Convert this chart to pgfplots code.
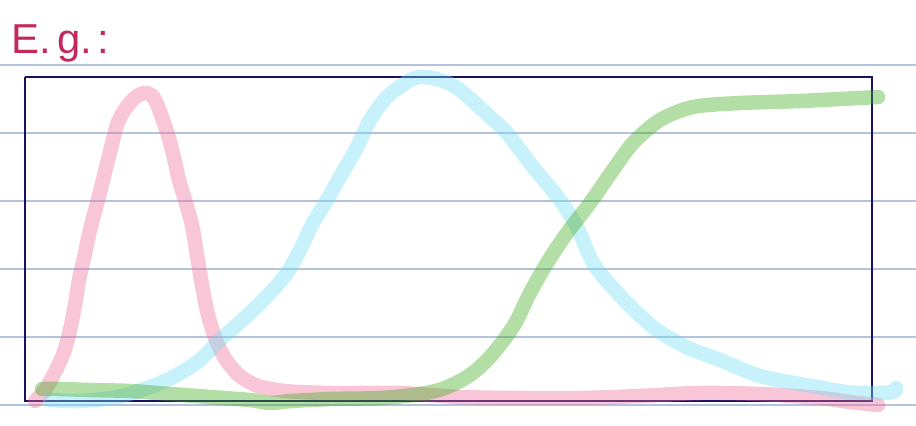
\documentclass[border=0pt]{standalone}
\usepackage{fontspec}
\setmainfont{Liberation Sans}
\usepackage{pgfplots}
\pgfplotsset{compat=1.18}

\definecolor{ruled}{HTML}{B3C3DB}
\definecolor{frame}{HTML}{1B0F63}
\definecolor{inkred}{HTML}{C2285C}
\definecolor{pinkc}{HTML}{F0709A}
\definecolor{cyanc}{HTML}{75DEF5}
\definecolor{greenc}{HTML}{41AC20}

\begin{document}
\begin{tikzpicture}
\begin{axis}[
    scale only axis,
    width=916bp, height=426bp,
    xmin=0, xmax=916, ymin=0, ymax=426,
    y dir=reverse,
    hide axis,
    clip=true,
    curve/.style={line width=14.5bp, line cap=round, line join=round, opacity=0.4, smooth, tension=0.5},
]
% ruled paper
\addplot[ruled, line width=1.2bp] coordinates {(0,65) (916,65)};
\addplot[ruled, line width=1.2bp] coordinates {(0,133) (916,133)};
\addplot[ruled, line width=1.2bp] coordinates {(0,201) (916,201)};
\addplot[ruled, line width=1.2bp] coordinates {(0,269) (916,269)};
\addplot[ruled, line width=1.2bp] coordinates {(0,337) (916,337)};
\addplot[ruled, line width=1.2bp] coordinates {(0,405) (916,405)};

% frame
\addplot[frame, line width=2bp] coordinates {(25,77) (872,77) (872,401) (25,401) (25,77)};

% pink
\addplot[curve, pinkc] coordinates {
(35,401) (45,390) (55,372) (64,352) (70,330) (75,305) (79,280) (84,258)
(90,230) (98,200) (106,168) (113,140) (118,122) (126,108) (137,96) (147,93)
(154,98) (160,112) (168,135) (174,158) (179,180) (185,200) (192,225) (197,255)
(202,285) (208,315) (216,340) (226,360) (240,376) (258,386) (285,391) (330,393)
(400,393) (460,397) (520,398) (580,398) (640,396) (700,393) (760,394) (820,398)
(850,402) (878,405)
};

% cyan
\addplot[curve, cyanc] coordinates {
(50,400) (80,401) (117,397) (150,387) (175,376) (200,360) (220,340) (250,313)
(270,293) (287,273) (300,250) (313,223) (327,200) (340,177) (357,147) (370,120)
(387,97) (407,82) (420,77) (440,80) (460,90) (490,117) (507,133) (533,167)
(560,200) (577,227) (590,257) (600,273) (627,303) (653,327) (673,340) (693,350)
(720,360) (760,376) (806,385) (847,392) (872,393) (893,392) (896,388)
};

% green
\addplot[curve, greenc] coordinates {
(42,389) (60,389) (90,390) (130,391) (170,394) (210,397) (250,400) (270,403)
(292,401) (330,399) (380,398) (420,394) (445,388) (470,375) (490,357) (513,327)
(530,293) (547,263) (567,233) (590,203) (613,170) (633,143) (660,120) (693,107)
(740,103) (800,101) (878,97)
};

\node[anchor=base west, inkred, font=\fontsize{42}{42}\selectfont] at (axis cs:8,54) {E.\kern6bp g.\kern6bp:};
\end{axis}
\path (current axis.south west) rectangle (current axis.north east);
\end{tikzpicture}
\end{document}
